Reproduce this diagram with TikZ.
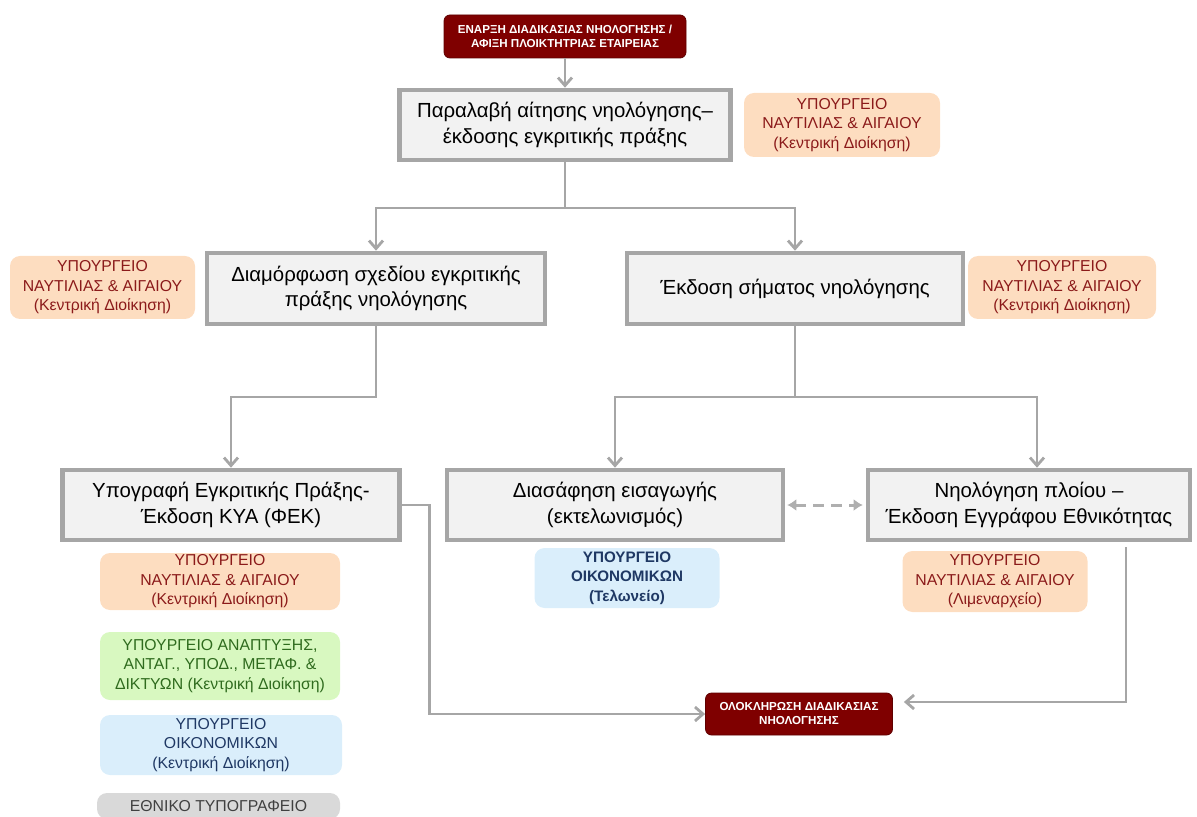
\documentclass[tikz,border=0pt]{standalone}
\usepackage{fontspec}
\setmainfont{Liberation Sans}
\usetikzlibrary{arrows.meta,positioning}

\definecolor{termred}{HTML}{7F0000}
\definecolor{boxline}{HTML}{A6A6A6}
\definecolor{boxfill}{HTML}{F2F2F2}
\definecolor{peach}{HTML}{FDDDC0}
\definecolor{peachtext}{HTML}{8B1A1A}
\definecolor{lime}{HTML}{D8F8C0}
\definecolor{limetext}{HTML}{2F6B1E}
\definecolor{sky}{HTML}{DAEEFB}
\definecolor{skytext}{HTML}{1F3864}
\definecolor{greyfill}{HTML}{D9D9D9}

\begin{document}
\begin{tikzpicture}[
  x=0.5pt, y=-0.5pt,
  proc/.style={
    draw=boxline, line width=2.3pt, fill=boxfill,
    align=center, inner sep=0pt,
    font=\fontsize{10.2}{12.8}\selectfont
  },
  agency/.style={
    rounded corners=5pt, align=center, inner sep=0pt,
    font=\fontsize{7.9}{9.8}\selectfont
  },
  term/.style={
    fill=termred, draw=termred!75!black, rounded corners=3pt,
    text=white, align=center, inner sep=0pt,
    font=\fontsize{5.8}{7}\selectfont\bfseries
  },
  arrow/.style={draw=boxline, line width=1.4pt, -{Straight Barb[length=4pt,width=7pt]}},
  dasharrow/.style={draw=boxline!90, line width=1.5pt, dash pattern=on 5.5pt off 3.5pt,
    {Latex[length=4.5pt,width=6pt]}-{Latex[length=4.5pt,width=6pt]}}
]
\useasboundingbox (0,0) rectangle (1197,817);

% start / end
\node[term, minimum width=121pt, minimum height=21.5pt] (start) at (565,36.5)
  {ΕΝΑΡΞΗ ΔΙΑΔΙΚΑΣΙΑΣ ΝΗΟΛΟΓΗΣΗΣ /\\ΑΦΙΞΗ ΠΛΟΙΚΤΗΤΡΙΑΣ ΕΤΑΙΡΕΙΑΣ};
\node[term, minimum width=93.5pt, minimum height=21pt] (finish) at (799,714)
  {ΟΛΟΚΛΗΡΩΣΗ ΔΙΑΔΙΚΑΣΙΑΣ\\ΝΗΟΛΟΓΗΣΗΣ};

% process steps
\node[proc, minimum width=165.5pt, minimum height=35pt] (receive) at (565,125)
  {Παραλαβή αίτησης νηολόγησης–\\έκδοσης εγκριτικής πράξης};
\node[proc, minimum width=169pt, minimum height=35.5pt] (draft) at (376,288.5)
  {Διαμόρφωση σχεδίου εγκριτικής\\πράξης νηολόγησης};
\node[proc, minimum width=168pt, minimum height=35.5pt] (mark) at (795,288.5)
  {Έκδοση σήματος νηολόγησης};
\node[proc, minimum width=168.5pt, minimum height=35pt] (sign) at (231,505)
  {Υπογραφή Εγκριτικής Πράξης-\\Έκδοση ΚΥΑ (ΦΕΚ)};
\node[proc, minimum width=168pt, minimum height=35pt] (customs) at (615,505)
  {Διασάφηση εισαγωγής\\(εκτελωνισμός)};
\node[proc, minimum width=161pt, minimum height=35pt] (register) at (1029,505)
  {Νηολόγηση πλοίου –\\Έκδοση Εγγράφου Εθνικότητας};

% responsible services
\node[agency, fill=peach, text=peachtext, minimum width=98pt, minimum height=32pt] (ynaReceive) at (842,125)
  {ΥΠΟΥΡΓΕΙΟ\\ΝΑΥΤΙΛΙΑΣ \& ΑΙΓΑΙΟΥ\\(Κεντρική Διοίκηση)};
\node[agency, fill=peach, text=peachtext, minimum width=92.5pt, minimum height=31.5pt] (ynaDraft) at (102.5,287.5)
  {ΥΠΟΥΡΓΕΙΟ\\ΝΑΥΤΙΛΙΑΣ \& ΑΙΓΑΙΟΥ\\(Κεντρική Διοίκηση)};
\node[agency, fill=peach, text=peachtext, minimum width=94pt, minimum height=31.5pt] (ynaMark) at (1062,287.5)
  {ΥΠΟΥΡΓΕΙΟ\\ΝΑΥΤΙΛΙΑΣ \& ΑΙΓΑΙΟΥ\\(Κεντρική Διοίκηση)};
\node[agency, fill=peach, text=peachtext, minimum width=120pt, minimum height=28.5pt] (ynaSign) at (220,581.5)
  {ΥΠΟΥΡΓΕΙΟ\\ΝΑΥΤΙΛΙΑΣ \& ΑΙΓΑΙΟΥ\\(Κεντρική Διοίκηση)};
\node[agency, fill=lime, text=limetext, minimum width=120pt, minimum height=34pt] (ypanSign) at (220,666)
  {ΥΠΟΥΡΓΕΙΟ ΑΝΑΠΤΥΞΗΣ,\\ΑΝΤΑΓ., ΥΠΟΔ., ΜΕΤΑΦ. \&\\ΔΙΚΤΥΩΝ (Κεντρική Διοίκηση)};
\node[agency, fill=sky, text=skytext, minimum width=121pt, minimum height=30pt] (yoikSign) at (221,745)
  {ΥΠΟΥΡΓΕΙΟ\\ΟΙΚΟΝΟΜΙΚΩΝ\\(Κεντρική Διοίκηση)};
\node[agency, fill=greyfill, text=black!75, minimum width=121.5pt, minimum height=13pt] (etSign) at (218.5,806)
  {ΕΘΝΙΚΟ ΤΥΠΟΓΡΑΦΕΙΟ};
\node[agency, fill=sky, text=skytext, font=\fontsize{7.6}{9.8}\selectfont\bfseries,
  minimum width=92.5pt, minimum height=30pt] (yoikCustoms) at (627,578)
  {ΥΠΟΥΡΓΕΙΟ\\ΟΙΚΟΝΟΜΙΚΩΝ\\(Τελωνείο)};
\node[agency, fill=peach, text=peachtext, minimum width=92.5pt, minimum height=30.5pt] (ynaRegister) at (995,581.5)
  {ΥΠΟΥΡΓΕΙΟ\\ΝΑΥΤΙΛΙΑΣ \& ΑΙΓΑΙΟΥ\\(Λιμεναρχείο)};

\coordinate (regTail) at (1126,547);

% connectors
\draw[arrow] (start) -- (receive);
\draw[arrow] (receive.south) -- (receive.south |- 0,208) -| (draft);
\draw[arrow] (receive.south) -- (receive.south |- 0,208) -| (mark);
\draw[arrow] (draft.south) -- (draft.south |- 0,397) -| (sign);
\draw[arrow] (mark.south) -- (mark.south |- 0,397) -| (customs);
\draw[arrow] (mark.south) -- (mark.south |- 0,397) -| ([xshift=4pt]register.north);
\draw[dasharrow, shorten <=1pt, shorten >=1.5pt] (customs) -- (register);
\draw[arrow] (sign.east) -- ++(28,0) |- (finish);
\draw[arrow, shorten >=5.5pt] (regTail) |- ([yshift=6pt]finish.east);

\end{tikzpicture}
\end{document}
